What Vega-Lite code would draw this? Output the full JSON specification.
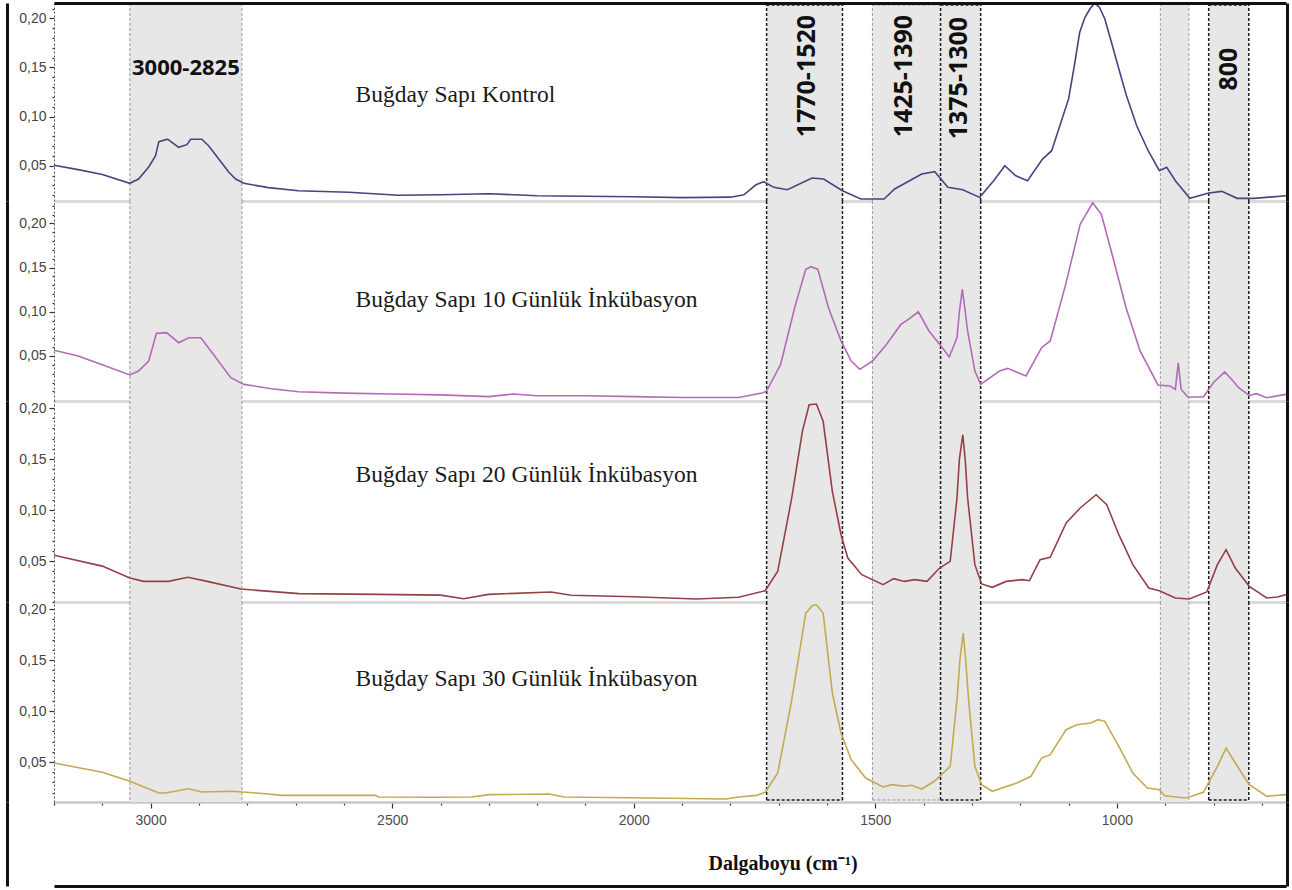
{
  "$schema": "https://vega.github.io/schema/vega-lite/v6.json",
  "usermeta": {"embedOptions": {"actions": false}},
  "background": "white",
  "padding": {"left": 7, "top": 2, "right": 4, "bottom": 2},
  "bounds": "flush",
  "spacing": 0,
  "resolve": {"scale": {"x": "independent", "y": "independent"}, "axis": {"x": "independent", "y": "independent"}},
  "config": {"view": {"stroke": null}, "axis": {"grid": false}},
  "datasets": {
    "bands": [
      {"start": 3043, "end": 2811}, {"start": 1725, "end": 1568}, {"start": 1506, "end": 1365},
      {"start": 1365, "end": 1282}, {"start": 910, "end": 851}, {"start": 810, "end": 727}
    ],
    "edgesLight": [{"wn": 3043}, {"wn": 2811}, {"wn": 1506}, {"wn": 910}, {"wn": 851}],
    "edgesDark": [{"wn": 1725}, {"wn": 1568}, {"wn": 1365}, {"wn": 1282}, {"wn": 810}, {"wn": 727}],
    "boxesDark": [{"start": 1725, "end": 1568}, {"start": 1365, "end": 1282}, {"start": 810, "end": 727}],
    "boxesLight": [{"start": 1506, "end": 1365}],
    "spectra": [
      {"sample": "K", "wn": 3200, "abs": 0.0505}, {"sample": "K", "wn": 3150, "abs": 0.046}, {"sample": "K", "wn": 3100, "abs": 0.041},
      {"sample": "K", "wn": 3043, "abs": 0.0321}, {"sample": "K", "wn": 3025, "abs": 0.0364}, {"sample": "K", "wn": 3004, "abs": 0.0487},
      {"sample": "K", "wn": 2990, "abs": 0.06}, {"sample": "K", "wn": 2983, "abs": 0.0745}, {"sample": "K", "wn": 2965, "abs": 0.077},
      {"sample": "K", "wn": 2942, "abs": 0.0687}, {"sample": "K", "wn": 2925, "abs": 0.0714}, {"sample": "K", "wn": 2917, "abs": 0.077},
      {"sample": "K", "wn": 2894, "abs": 0.077}, {"sample": "K", "wn": 2880, "abs": 0.0704}, {"sample": "K", "wn": 2859, "abs": 0.0568},
      {"sample": "K", "wn": 2838, "abs": 0.0433}, {"sample": "K", "wn": 2824, "abs": 0.0365}, {"sample": "K", "wn": 2807, "abs": 0.0321},
      {"sample": "K", "wn": 2756, "abs": 0.0277}, {"sample": "K", "wn": 2694, "abs": 0.0245}, {"sample": "K", "wn": 2590, "abs": 0.023},
      {"sample": "K", "wn": 2487, "abs": 0.02}, {"sample": "K", "wn": 2400, "abs": 0.0205}, {"sample": "K", "wn": 2300, "abs": 0.0215},
      {"sample": "K", "wn": 2200, "abs": 0.0195}, {"sample": "K", "wn": 2100, "abs": 0.019}, {"sample": "K", "wn": 2000, "abs": 0.0185},
      {"sample": "K", "wn": 1900, "abs": 0.0175}, {"sample": "K", "wn": 1800, "abs": 0.018}, {"sample": "K", "wn": 1772, "abs": 0.0204},
      {"sample": "K", "wn": 1747, "abs": 0.0306}, {"sample": "K", "wn": 1731, "abs": 0.0337}, {"sample": "K", "wn": 1710, "abs": 0.028},
      {"sample": "K", "wn": 1682, "abs": 0.0256}, {"sample": "K", "wn": 1631, "abs": 0.0375}, {"sample": "K", "wn": 1607, "abs": 0.0365},
      {"sample": "K", "wn": 1568, "abs": 0.0245}, {"sample": "K", "wn": 1530, "abs": 0.0161}, {"sample": "K", "wn": 1482, "abs": 0.0161},
      {"sample": "K", "wn": 1460, "abs": 0.0263}, {"sample": "K", "wn": 1404, "abs": 0.0415}, {"sample": "K", "wn": 1377, "abs": 0.0439},
      {"sample": "K", "wn": 1350, "abs": 0.028}, {"sample": "K", "wn": 1319, "abs": 0.0256}, {"sample": "K", "wn": 1284, "abs": 0.0178},
      {"sample": "K", "wn": 1255, "abs": 0.0347}, {"sample": "K", "wn": 1232, "abs": 0.05}, {"sample": "K", "wn": 1210, "abs": 0.04},
      {"sample": "K", "wn": 1185, "abs": 0.0347}, {"sample": "K", "wn": 1154, "abs": 0.0568}, {"sample": "K", "wn": 1135, "abs": 0.0653},
      {"sample": "K", "wn": 1100, "abs": 0.118}, {"sample": "K", "wn": 1088, "abs": 0.152}, {"sample": "K", "wn": 1077, "abs": 0.1858},
      {"sample": "K", "wn": 1066, "abs": 0.201}, {"sample": "K", "wn": 1056, "abs": 0.2095}, {"sample": "K", "wn": 1046, "abs": 0.2157},
      {"sample": "K", "wn": 1036, "abs": 0.211}, {"sample": "K", "wn": 1025, "abs": 0.1993}, {"sample": "K", "wn": 1012, "abs": 0.177},
      {"sample": "K", "wn": 998, "abs": 0.152}, {"sample": "K", "wn": 980, "abs": 0.121}, {"sample": "K", "wn": 959, "abs": 0.0907},
      {"sample": "K", "wn": 935, "abs": 0.065}, {"sample": "K", "wn": 912, "abs": 0.0449}, {"sample": "K", "wn": 897, "abs": 0.0484},
      {"sample": "K", "wn": 879, "abs": 0.0347}, {"sample": "K", "wn": 849, "abs": 0.0168}, {"sample": "K", "wn": 810, "abs": 0.0222},
      {"sample": "K", "wn": 783, "abs": 0.0239}, {"sample": "K", "wn": 751, "abs": 0.0168}, {"sample": "K", "wn": 716, "abs": 0.0168},
      {"sample": "K", "wn": 650, "abs": 0.0194},

      {"sample": "10", "wn": 3200, "abs": 0.0565}, {"sample": "10", "wn": 3150, "abs": 0.05}, {"sample": "10", "wn": 3100, "abs": 0.04},
      {"sample": "10", "wn": 3043, "abs": 0.0285}, {"sample": "10", "wn": 3025, "abs": 0.033}, {"sample": "10", "wn": 3004, "abs": 0.0443},
      {"sample": "10", "wn": 2988, "abs": 0.0756}, {"sample": "10", "wn": 2967, "abs": 0.0764}, {"sample": "10", "wn": 2942, "abs": 0.065},
      {"sample": "10", "wn": 2921, "abs": 0.0707}, {"sample": "10", "wn": 2896, "abs": 0.0707}, {"sample": "10", "wn": 2870, "abs": 0.0518},
      {"sample": "10", "wn": 2834, "abs": 0.0255}, {"sample": "10", "wn": 2807, "abs": 0.0179}, {"sample": "10", "wn": 2750, "abs": 0.013},
      {"sample": "10", "wn": 2694, "abs": 0.0096}, {"sample": "10", "wn": 2600, "abs": 0.008}, {"sample": "10", "wn": 2500, "abs": 0.007},
      {"sample": "10", "wn": 2400, "abs": 0.006}, {"sample": "10", "wn": 2300, "abs": 0.004}, {"sample": "10", "wn": 2250, "abs": 0.007},
      {"sample": "10", "wn": 2200, "abs": 0.005}, {"sample": "10", "wn": 2100, "abs": 0.005}, {"sample": "10", "wn": 2000, "abs": 0.004},
      {"sample": "10", "wn": 1900, "abs": 0.003}, {"sample": "10", "wn": 1783, "abs": 0.003}, {"sample": "10", "wn": 1732, "abs": 0.0085},
      {"sample": "10", "wn": 1725, "abs": 0.0104}, {"sample": "10", "wn": 1696, "abs": 0.0405}, {"sample": "10", "wn": 1667, "abs": 0.1046},
      {"sample": "10", "wn": 1644, "abs": 0.148}, {"sample": "10", "wn": 1633, "abs": 0.151}, {"sample": "10", "wn": 1619, "abs": 0.148},
      {"sample": "10", "wn": 1597, "abs": 0.1046}, {"sample": "10", "wn": 1571, "abs": 0.067}, {"sample": "10", "wn": 1550, "abs": 0.0443},
      {"sample": "10", "wn": 1532, "abs": 0.0349}, {"sample": "10", "wn": 1506, "abs": 0.0443}, {"sample": "10", "wn": 1477, "abs": 0.0631},
      {"sample": "10", "wn": 1447, "abs": 0.0857}, {"sample": "10", "wn": 1430, "abs": 0.092}, {"sample": "10", "wn": 1411, "abs": 0.1},
      {"sample": "10", "wn": 1389, "abs": 0.0783}, {"sample": "10", "wn": 1364, "abs": 0.0613}, {"sample": "10", "wn": 1347, "abs": 0.0489},
      {"sample": "10", "wn": 1331, "abs": 0.0707}, {"sample": "10", "wn": 1326, "abs": 0.1}, {"sample": "10", "wn": 1320, "abs": 0.1253},
      {"sample": "10", "wn": 1315, "abs": 0.105}, {"sample": "10", "wn": 1309, "abs": 0.0783}, {"sample": "10", "wn": 1294, "abs": 0.033},
      {"sample": "10", "wn": 1282, "abs": 0.0179}, {"sample": "10", "wn": 1243, "abs": 0.033}, {"sample": "10", "wn": 1226, "abs": 0.036},
      {"sample": "10", "wn": 1188, "abs": 0.0274}, {"sample": "10", "wn": 1156, "abs": 0.0594}, {"sample": "10", "wn": 1138, "abs": 0.067},
      {"sample": "10", "wn": 1106, "abs": 0.131}, {"sample": "10", "wn": 1076, "abs": 0.1989}, {"sample": "10", "wn": 1050, "abs": 0.2234},
      {"sample": "10", "wn": 1032, "abs": 0.21}, {"sample": "10", "wn": 1010, "abs": 0.165}, {"sample": "10", "wn": 981, "abs": 0.1046},
      {"sample": "10", "wn": 952, "abs": 0.0557}, {"sample": "10", "wn": 915, "abs": 0.0172}, {"sample": "10", "wn": 890, "abs": 0.016},
      {"sample": "10", "wn": 879, "abs": 0.0122}, {"sample": "10", "wn": 873, "abs": 0.0424}, {"sample": "10", "wn": 867, "abs": 0.0122},
      {"sample": "10", "wn": 853, "abs": 0.0036}, {"sample": "10", "wn": 821, "abs": 0.0036}, {"sample": "10", "wn": 800, "abs": 0.02},
      {"sample": "10", "wn": 777, "abs": 0.0319}, {"sample": "10", "wn": 760, "abs": 0.022}, {"sample": "10", "wn": 748, "abs": 0.0141},
      {"sample": "10", "wn": 726, "abs": 0.0054}, {"sample": "10", "wn": 711, "abs": 0.0074}, {"sample": "10", "wn": 690, "abs": 0.0028},
      {"sample": "10", "wn": 650, "abs": 0.0066},

      {"sample": "20", "wn": 3200, "abs": 0.0556}, {"sample": "20", "wn": 3100, "abs": 0.045}, {"sample": "20", "wn": 3043, "abs": 0.0333},
      {"sample": "20", "wn": 3014, "abs": 0.03}, {"sample": "20", "wn": 2963, "abs": 0.03}, {"sample": "20", "wn": 2923, "abs": 0.034},
      {"sample": "20", "wn": 2883, "abs": 0.03}, {"sample": "20", "wn": 2813, "abs": 0.0225}, {"sample": "20", "wn": 2693, "abs": 0.018},
      {"sample": "20", "wn": 2532, "abs": 0.0173}, {"sample": "20", "wn": 2400, "abs": 0.0165}, {"sample": "20", "wn": 2352, "abs": 0.013},
      {"sample": "20", "wn": 2301, "abs": 0.0173}, {"sample": "20", "wn": 2171, "abs": 0.0196}, {"sample": "20", "wn": 2130, "abs": 0.0164},
      {"sample": "20", "wn": 2000, "abs": 0.015}, {"sample": "20", "wn": 1870, "abs": 0.0127}, {"sample": "20", "wn": 1783, "abs": 0.0144},
      {"sample": "20", "wn": 1728, "abs": 0.0209}, {"sample": "20", "wn": 1702, "abs": 0.0399}, {"sample": "20", "wn": 1673, "abs": 0.1118},
      {"sample": "20", "wn": 1651, "abs": 0.1772}, {"sample": "20", "wn": 1637, "abs": 0.2032}, {"sample": "20", "wn": 1622, "abs": 0.2039},
      {"sample": "20", "wn": 1608, "abs": 0.187}, {"sample": "20", "wn": 1589, "abs": 0.1183}, {"sample": "20", "wn": 1571, "abs": 0.0758},
      {"sample": "20", "wn": 1557, "abs": 0.0529}, {"sample": "20", "wn": 1528, "abs": 0.0366}, {"sample": "20", "wn": 1484, "abs": 0.0268},
      {"sample": "20", "wn": 1462, "abs": 0.0327}, {"sample": "20", "wn": 1440, "abs": 0.03}, {"sample": "20", "wn": 1418, "abs": 0.0317},
      {"sample": "20", "wn": 1393, "abs": 0.03}, {"sample": "20", "wn": 1367, "abs": 0.0431}, {"sample": "20", "wn": 1345, "abs": 0.0497},
      {"sample": "20", "wn": 1331, "abs": 0.1118}, {"sample": "20", "wn": 1326, "abs": 0.15}, {"sample": "20", "wn": 1319, "abs": 0.1738},
      {"sample": "20", "wn": 1314, "abs": 0.15}, {"sample": "20", "wn": 1309, "abs": 0.1118}, {"sample": "20", "wn": 1294, "abs": 0.0464},
      {"sample": "20", "wn": 1280, "abs": 0.0275}, {"sample": "20", "wn": 1258, "abs": 0.0242}, {"sample": "20", "wn": 1229, "abs": 0.03},
      {"sample": "20", "wn": 1196, "abs": 0.0317}, {"sample": "20", "wn": 1181, "abs": 0.0307}, {"sample": "20", "wn": 1159, "abs": 0.0513},
      {"sample": "20", "wn": 1138, "abs": 0.0536}, {"sample": "20", "wn": 1105, "abs": 0.0873}, {"sample": "20", "wn": 1076, "abs": 0.102},
      {"sample": "20", "wn": 1043, "abs": 0.115}, {"sample": "20", "wn": 1021, "abs": 0.1052}, {"sample": "20", "wn": 996, "abs": 0.0758},
      {"sample": "20", "wn": 967, "abs": 0.0464}, {"sample": "20", "wn": 934, "abs": 0.0235}, {"sample": "20", "wn": 912, "abs": 0.0209},
      {"sample": "20", "wn": 879, "abs": 0.0137}, {"sample": "20", "wn": 850, "abs": 0.0127}, {"sample": "20", "wn": 814, "abs": 0.0196},
      {"sample": "20", "wn": 792, "abs": 0.0464}, {"sample": "20", "wn": 774, "abs": 0.0611}, {"sample": "20", "wn": 755, "abs": 0.0431},
      {"sample": "20", "wn": 726, "abs": 0.0252}, {"sample": "20", "wn": 690, "abs": 0.0137}, {"sample": "20", "wn": 668, "abs": 0.0147},
      {"sample": "20", "wn": 650, "abs": 0.017},

      {"sample": "30", "wn": 3200, "abs": 0.049}, {"sample": "30", "wn": 3100, "abs": 0.04}, {"sample": "30", "wn": 3043, "abs": 0.0311},
      {"sample": "30", "wn": 2983, "abs": 0.0196}, {"sample": "30", "wn": 2970, "abs": 0.0196}, {"sample": "30", "wn": 2921, "abs": 0.0238},
      {"sample": "30", "wn": 2894, "abs": 0.0206}, {"sample": "30", "wn": 2832, "abs": 0.0213}, {"sample": "30", "wn": 2763, "abs": 0.0189},
      {"sample": "30", "wn": 2729, "abs": 0.0173}, {"sample": "30", "wn": 2535, "abs": 0.0173}, {"sample": "30", "wn": 2528, "abs": 0.0157},
      {"sample": "30", "wn": 2418, "abs": 0.0154}, {"sample": "30", "wn": 2335, "abs": 0.0157}, {"sample": "30", "wn": 2300, "abs": 0.018},
      {"sample": "30", "wn": 2175, "abs": 0.0186}, {"sample": "30", "wn": 2144, "abs": 0.0157}, {"sample": "30", "wn": 1966, "abs": 0.0147},
      {"sample": "30", "wn": 1809, "abs": 0.0137}, {"sample": "30", "wn": 1783, "abs": 0.0157}, {"sample": "30", "wn": 1746, "abs": 0.0173},
      {"sample": "30", "wn": 1728, "abs": 0.0203}, {"sample": "30", "wn": 1702, "abs": 0.0392}, {"sample": "30", "wn": 1673, "abs": 0.111},
      {"sample": "30", "wn": 1644, "abs": 0.196}, {"sample": "30", "wn": 1630, "abs": 0.2035}, {"sample": "30", "wn": 1622, "abs": 0.2042},
      {"sample": "30", "wn": 1608, "abs": 0.196}, {"sample": "30", "wn": 1589, "abs": 0.1176}, {"sample": "30", "wn": 1571, "abs": 0.0784},
      {"sample": "30", "wn": 1550, "abs": 0.0523}, {"sample": "30", "wn": 1520, "abs": 0.0343}, {"sample": "30", "wn": 1484, "abs": 0.0255},
      {"sample": "30", "wn": 1466, "abs": 0.0278}, {"sample": "30", "wn": 1440, "abs": 0.0262}, {"sample": "30", "wn": 1425, "abs": 0.0272},
      {"sample": "30", "wn": 1404, "abs": 0.0235}, {"sample": "30", "wn": 1378, "abs": 0.0311}, {"sample": "30", "wn": 1345, "abs": 0.0458},
      {"sample": "30", "wn": 1331, "abs": 0.111}, {"sample": "30", "wn": 1325, "abs": 0.15}, {"sample": "30", "wn": 1318, "abs": 0.1765},
      {"sample": "30", "wn": 1313, "abs": 0.15}, {"sample": "30", "wn": 1307, "abs": 0.111}, {"sample": "30", "wn": 1294, "abs": 0.0458},
      {"sample": "30", "wn": 1280, "abs": 0.0278}, {"sample": "30", "wn": 1258, "abs": 0.0213}, {"sample": "30", "wn": 1207, "abs": 0.0294},
      {"sample": "30", "wn": 1178, "abs": 0.036}, {"sample": "30", "wn": 1156, "abs": 0.0539}, {"sample": "30", "wn": 1138, "abs": 0.0572},
      {"sample": "30", "wn": 1105, "abs": 0.0817}, {"sample": "30", "wn": 1083, "abs": 0.0866}, {"sample": "30", "wn": 1054, "abs": 0.0882},
      {"sample": "30", "wn": 1039, "abs": 0.0915}, {"sample": "30", "wn": 1025, "abs": 0.0899}, {"sample": "30", "wn": 996, "abs": 0.0654},
      {"sample": "30", "wn": 967, "abs": 0.0392}, {"sample": "30", "wn": 937, "abs": 0.0245}, {"sample": "30", "wn": 912, "abs": 0.0229},
      {"sample": "30", "wn": 901, "abs": 0.017}, {"sample": "30", "wn": 857, "abs": 0.0147}, {"sample": "30", "wn": 821, "abs": 0.0203},
      {"sample": "30", "wn": 792, "abs": 0.0458}, {"sample": "30", "wn": 774, "abs": 0.0637}, {"sample": "30", "wn": 755, "abs": 0.049},
      {"sample": "30", "wn": 726, "abs": 0.0278}, {"sample": "30", "wn": 690, "abs": 0.0164}, {"sample": "30", "wn": 650, "abs": 0.018}
    ]
  },
  "vconcat": [
    {
      "width": 1232, "height": 198,
      "layer": [
        {"data": {"name": "bands"}, "mark": {"type": "rect", "color": "#e7e7e7"},
         "encoding": {"x": {"field": "start", "type": "quantitative", "scale": {"domain": [650, 3200], "reverse": true, "nice": false, "zero": false}, "axis": null}, "x2": {"field": "end"}}},
        {"data": {"name": "edgesLight"}, "mark": {"type": "rule", "color": "#9a9a9a", "strokeDash": [3, 2], "strokeWidth": 1},
         "encoding": {"x": {"field": "wn", "type": "quantitative", "scale": {"domain": [650, 3200], "reverse": true, "nice": false, "zero": false}, "axis": null}}},
        {"data": {"name": "edgesDark"}, "mark": {"type": "rule", "color": "#1a1a1a", "strokeDash": [3, 2], "strokeWidth": 1.5},
         "encoding": {"x": {"field": "wn", "type": "quantitative", "scale": {"domain": [650, 3200], "reverse": true, "nice": false, "zero": false}, "axis": null}}},
        {"data": {"name": "boxesDark"}, "mark": {"type": "rule", "color": "#1a1a1a", "strokeDash": [3, 2], "strokeWidth": 1.5},
         "encoding": {"x": {"field": "start", "type": "quantitative", "scale": {"domain": [650, 3200], "reverse": true, "nice": false, "zero": false}, "axis": null}, "x2": {"field": "end"},
                      "y": {"datum": 0.2135, "type": "quantitative", "scale": {"domain": [0.0141, 0.2156], "nice": false, "zero": false}, "axis": null}}},
        {"data": {"name": "boxesLight"}, "mark": {"type": "rule", "color": "#9a9a9a", "strokeDash": [3, 2], "strokeWidth": 1},
         "encoding": {"x": {"field": "start", "type": "quantitative", "scale": {"domain": [650, 3200], "reverse": true, "nice": false, "zero": false}, "axis": null}, "x2": {"field": "end"},
                      "y": {"datum": 0.2135, "type": "quantitative", "scale": {"domain": [0.0141, 0.2156], "nice": false, "zero": false}, "axis": null}}},
        {"data": {"name": "spectra"}, "transform": [{"filter": "datum.sample == 'K'"}],
         "mark": {"type": "line", "color": "#45457f", "strokeWidth": 1.6, "clip": true},
         "encoding": {
           "x": {"field": "wn", "type": "quantitative", "scale": {"domain": [650, 3200], "reverse": true, "nice": false, "zero": false},
                 "axis": {"orient": "bottom", "domainColor": "#dadada", "domainWidth": 3, "ticks": false, "labels": false, "title": null}},
           "y": {"field": "abs", "type": "quantitative", "scale": {"domain": [0.0141, 0.2156], "nice": false, "zero": false},
                 "axis": {"orient": "left", "values": [0.02, 0.03, 0.04, 0.05, 0.06, 0.07, 0.08, 0.09, 0.1, 0.11, 0.12, 0.13, 0.14, 0.15, 0.16, 0.17, 0.18, 0.19, 0.2, 0.21],
                          "labelExpr": "round(datum.value*100) % 5 == 0 ? replace(format(datum.value, '.2f'), '.', ',') : ''",
                          "tickSize": {"condition": {"test": "round(datum.value*100) % 5 == 0", "value": 5}, "value": 2},
                          "tickColor": "#333", "tickWidth": 1.2, "domainColor": "#555", "domainDash": [2, 2], "domainWidth": 1,
                          "labelFont": "Liberation Sans", "labelFontSize": 14, "labelColor": "#444", "labelPadding": 3, "title": null}}
         }},
        {"data": {"values": [{"text": "Buğday Sapı Kontrol", "wn": 2576, "abs": 0.1146}]},
         "mark": {"type": "text", "align": "left", "baseline": "alphabetic", "font": "Liberation Serif", "fontSize": 23.5, "color": "#1a1a1a"},
         "encoding": {
           "x": {"field": "wn", "type": "quantitative", "scale": {"domain": [650, 3200], "reverse": true, "nice": false, "zero": false},
                 "axis": {"orient": "top", "domainColor": "#111", "domainWidth": 3, "ticks": false, "labels": false, "title": null, "zindex": 2}},
           "y": {"field": "abs", "type": "quantitative", "scale": {"domain": [0.0141, 0.2156], "nice": false, "zero": false},
                 "axis": {"orient": "right", "offset": 1, "domainColor": "#111", "domainWidth": 3, "ticks": false, "labels": false, "title": null, "zindex": 2}},
           "text": {"field": "text"}}},
        {"data": {"values": [{"abs": 0.1}]}, "mark": {"type": "rule", "opacity": 0},
         "encoding": {"y": {"field": "abs", "type": "quantitative", "scale": {"domain": [0.0141, 0.2156], "nice": false, "zero": false},
                 "axis": {"orient": "left", "offset": 47, "domainColor": "#111", "domainWidth": 3, "ticks": false, "labels": false, "title": null, "zindex": 2}}}},
        {"data": {"values": [{"text": "3000-2825", "wn": 2927, "abs": 0.1424}]},
         "mark": {"type": "text", "align": "center", "baseline": "alphabetic", "font": "Open Sans", "fontWeight": "bold", "fontSize": 22, "color": "#111"},
         "encoding": {
           "x": {"field": "wn", "type": "quantitative", "scale": {"domain": [650, 3200], "reverse": true, "nice": false, "zero": false}, "axis": null},
           "y": {"field": "abs", "type": "quantitative", "scale": {"domain": [0.0141, 0.2156], "nice": false, "zero": false}, "axis": null},
           "text": {"field": "text"}}},
        {"data": {"values": [{"text": "1770-1520", "wn": 1641, "abs": 0.1412}, {"text": "1425-1390", "wn": 1440, "abs": 0.1412}, {"text": "1375-1300", "wn": 1327, "abs": 0.1392}, {"text": "800", "wn": 768, "abs": 0.1484}]},
         "mark": {"type": "text", "angle": 270, "align": "center", "baseline": "middle", "font": "Open Sans", "fontWeight": "bold", "fontSize": 25, "color": "#111"},
         "encoding": {
           "x": {"field": "wn", "type": "quantitative", "scale": {"domain": [650, 3200], "reverse": true, "nice": false, "zero": false}, "axis": null},
           "y": {"field": "abs", "type": "quantitative", "scale": {"domain": [0.0141, 0.2156], "nice": false, "zero": false}, "axis": null},
           "text": {"field": "text"}}}
      ],
      "resolve": {"axis": {"x": "independent", "y": "independent"}}
    },
    {
      "width": 1232, "height": 200,
      "layer": [
        {"data": {"name": "bands"}, "mark": {"type": "rect", "color": "#e7e7e7"},
         "encoding": {"x": {"field": "start", "type": "quantitative", "scale": {"domain": [650, 3200], "reverse": true, "nice": false, "zero": false}, "axis": null}, "x2": {"field": "end"}}},
        {"data": {"name": "edgesLight"}, "mark": {"type": "rule", "color": "#9a9a9a", "strokeDash": [3, 2], "strokeWidth": 1},
         "encoding": {"x": {"field": "wn", "type": "quantitative", "scale": {"domain": [650, 3200], "reverse": true, "nice": false, "zero": false}, "axis": null}}},
        {"data": {"name": "edgesDark"}, "mark": {"type": "rule", "color": "#1a1a1a", "strokeDash": [3, 2], "strokeWidth": 1.5},
         "encoding": {"x": {"field": "wn", "type": "quantitative", "scale": {"domain": [650, 3200], "reverse": true, "nice": false, "zero": false}, "axis": null}}},
        {"data": {"name": "spectra"}, "transform": [{"filter": "datum.sample == '10'"}],
         "mark": {"type": "line", "color": "#b46ab9", "strokeWidth": 1.6, "clip": true},
         "encoding": {
           "x": {"field": "wn", "type": "quantitative", "scale": {"domain": [650, 3200], "reverse": true, "nice": false, "zero": false},
                 "axis": {"orient": "bottom", "domainColor": "#dadada", "domainWidth": 3, "ticks": false, "labels": false, "title": null}},
           "y": {"field": "abs", "type": "quantitative", "scale": {"domain": [-0.0009, 0.2253], "nice": false, "zero": false},
                 "axis": {"orient": "left", "values": [0.01, 0.02, 0.03, 0.04, 0.05, 0.06, 0.07, 0.08, 0.09, 0.1, 0.11, 0.12, 0.13, 0.14, 0.15, 0.16, 0.17, 0.18, 0.19, 0.2, 0.21, 0.22],
                          "labelExpr": "round(datum.value*100) % 5 == 0 ? replace(format(datum.value, '.2f'), '.', ',') : ''",
                          "tickSize": {"condition": {"test": "round(datum.value*100) % 5 == 0", "value": 5}, "value": 2},
                          "tickColor": "#333", "tickWidth": 1.2, "domainColor": "#555", "domainDash": [2, 2], "domainWidth": 1,
                          "labelFont": "Liberation Sans", "labelFontSize": 14, "labelColor": "#444", "labelPadding": 3, "title": null}}
         }},
        {"data": {"values": [{"text": "Buğday Sapı 10 Günlük İnkübasyon", "wn": 2576, "abs": 0.1058}]},
         "mark": {"type": "text", "align": "left", "baseline": "alphabetic", "font": "Liberation Serif", "fontSize": 23.5, "color": "#1a1a1a"},
         "encoding": {
           "x": {"field": "wn", "type": "quantitative", "scale": {"domain": [650, 3200], "reverse": true, "nice": false, "zero": false}, "axis": null},
           "y": {"field": "abs", "type": "quantitative", "scale": {"domain": [-0.0009, 0.2253], "nice": false, "zero": false},
                 "axis": {"orient": "right", "offset": 1, "domainColor": "#111", "domainWidth": 3, "ticks": false, "labels": false, "title": null, "zindex": 2}},
           "text": {"field": "text"}}},
        {"data": {"values": [{"abs": 0.1}]}, "mark": {"type": "rule", "opacity": 0},
         "encoding": {"y": {"field": "abs", "type": "quantitative", "scale": {"domain": [-0.0009, 0.2253], "nice": false, "zero": false},
                 "axis": {"orient": "left", "offset": 47, "domainColor": "#111", "domainWidth": 3, "ticks": false, "labels": false, "title": null, "zindex": 2}}}}
      ],
      "resolve": {"axis": {"x": "independent", "y": "independent"}}
    },
    {
      "width": 1232, "height": 201,
      "layer": [
        {"data": {"name": "bands"}, "mark": {"type": "rect", "color": "#e7e7e7"},
         "encoding": {"x": {"field": "start", "type": "quantitative", "scale": {"domain": [650, 3200], "reverse": true, "nice": false, "zero": false}, "axis": null}, "x2": {"field": "end"}}},
        {"data": {"name": "edgesLight"}, "mark": {"type": "rule", "color": "#9a9a9a", "strokeDash": [3, 2], "strokeWidth": 1},
         "encoding": {"x": {"field": "wn", "type": "quantitative", "scale": {"domain": [650, 3200], "reverse": true, "nice": false, "zero": false}, "axis": null}}},
        {"data": {"name": "edgesDark"}, "mark": {"type": "rule", "color": "#1a1a1a", "strokeDash": [3, 2], "strokeWidth": 1.5},
         "encoding": {"x": {"field": "wn", "type": "quantitative", "scale": {"domain": [650, 3200], "reverse": true, "nice": false, "zero": false}, "axis": null}}},
        {"data": {"name": "spectra"}, "transform": [{"filter": "datum.sample == '20'"}],
         "mark": {"type": "line", "color": "#963f47", "strokeWidth": 1.6, "clip": true},
         "encoding": {
           "x": {"field": "wn", "type": "quantitative", "scale": {"domain": [650, 3200], "reverse": true, "nice": false, "zero": false},
                 "axis": {"orient": "bottom", "domainColor": "#dadada", "domainWidth": 3, "ticks": false, "labels": false, "title": null}},
           "y": {"field": "abs", "type": "quantitative", "scale": {"domain": [0.0098, 0.2069], "nice": false, "zero": false},
                 "axis": {"orient": "left", "values": [0.01, 0.02, 0.03, 0.04, 0.05, 0.06, 0.07, 0.08, 0.09, 0.1, 0.11, 0.12, 0.13, 0.14, 0.15, 0.16, 0.17, 0.18, 0.19, 0.2],
                          "labelExpr": "round(datum.value*100) % 5 == 0 ? replace(format(datum.value, '.2f'), '.', ',') : ''",
                          "tickSize": {"condition": {"test": "round(datum.value*100) % 5 == 0", "value": 5}, "value": 2},
                          "tickColor": "#333", "tickWidth": 1.2, "domainColor": "#555", "domainDash": [2, 2], "domainWidth": 1,
                          "labelFont": "Liberation Sans", "labelFontSize": 14, "labelColor": "#444", "labelPadding": 3, "title": null}}
         }},
        {"data": {"values": [{"text": "Buğday Sapı 20 Günlük İnkübasyon", "wn": 2576, "abs": 0.1272}]},
         "mark": {"type": "text", "align": "left", "baseline": "alphabetic", "font": "Liberation Serif", "fontSize": 23.5, "color": "#1a1a1a"},
         "encoding": {
           "x": {"field": "wn", "type": "quantitative", "scale": {"domain": [650, 3200], "reverse": true, "nice": false, "zero": false}, "axis": null},
           "y": {"field": "abs", "type": "quantitative", "scale": {"domain": [0.0098, 0.2069], "nice": false, "zero": false},
                 "axis": {"orient": "right", "offset": 1, "domainColor": "#111", "domainWidth": 3, "ticks": false, "labels": false, "title": null, "zindex": 2}},
           "text": {"field": "text"}}},
        {"data": {"values": [{"abs": 0.1}]}, "mark": {"type": "rule", "opacity": 0},
         "encoding": {"y": {"field": "abs", "type": "quantitative", "scale": {"domain": [0.0098, 0.2069], "nice": false, "zero": false},
                 "axis": {"orient": "left", "offset": 47, "domainColor": "#111", "domainWidth": 3, "ticks": false, "labels": false, "title": null, "zindex": 2}}}}
      ],
      "resolve": {"axis": {"x": "independent", "y": "independent"}}
    },
    {
      "width": 1232, "height": 200,
      "layer": [
        {"data": {"name": "bands"}, "mark": {"type": "rect", "color": "#e7e7e7"},
         "encoding": {"x": {"field": "start", "type": "quantitative", "scale": {"domain": [650, 3200], "reverse": true, "nice": false, "zero": false}, "axis": null}, "x2": {"field": "end"}}},
        {"data": {"name": "edgesLight"}, "mark": {"type": "rule", "color": "#9a9a9a", "strokeDash": [3, 2], "strokeWidth": 1},
         "encoding": {"x": {"field": "wn", "type": "quantitative", "scale": {"domain": [650, 3200], "reverse": true, "nice": false, "zero": false}, "axis": null}}},
        {"data": {"name": "edgesDark"}, "mark": {"type": "rule", "color": "#1a1a1a", "strokeDash": [3, 2], "strokeWidth": 1.5},
         "encoding": {"x": {"field": "wn", "type": "quantitative", "scale": {"domain": [650, 3200], "reverse": true, "nice": false, "zero": false}, "axis": null}}},
        {"data": {"name": "boxesDark"}, "mark": {"type": "rule", "color": "#1a1a1a", "strokeDash": [3, 2], "strokeWidth": 1.5},
         "encoding": {"x": {"field": "start", "type": "quantitative", "scale": {"domain": [650, 3200], "reverse": true, "nice": false, "zero": false}, "axis": null}, "x2": {"field": "end"},
                      "y": {"datum": 0.0128, "type": "quantitative", "scale": {"domain": [0.0108, 0.2069], "nice": false, "zero": false}, "axis": null}}},
        {"data": {"name": "boxesLight"}, "mark": {"type": "rule", "color": "#9a9a9a", "strokeDash": [3, 2], "strokeWidth": 1},
         "encoding": {"x": {"field": "start", "type": "quantitative", "scale": {"domain": [650, 3200], "reverse": true, "nice": false, "zero": false}, "axis": null}, "x2": {"field": "end"},
                      "y": {"datum": 0.0128, "type": "quantitative", "scale": {"domain": [0.0108, 0.2069], "nice": false, "zero": false}, "axis": null}}},
        {"data": {"name": "spectra"}, "transform": [{"filter": "datum.sample == '30'"}],
         "mark": {"type": "line", "color": "#c4aa50", "strokeWidth": 1.6, "clip": true},
         "encoding": {
           "x": {"field": "wn", "type": "quantitative", "scale": {"domain": [650, 3200], "reverse": true, "nice": false, "zero": false},
                 "axis": {"orient": "bottom", "values": [700, 800, 900, 1000, 1100, 1200, 1300, 1400, 1500, 1600, 1700, 1800, 1900, 2000, 2100, 2200, 2300, 2400, 2500, 2600, 2700, 2800, 2900, 3000, 3100, 3200],
                          "labelExpr": "datum.value % 500 == 0 ? format(datum.value, 'd') : ''",
                          "tickSize": {"condition": {"test": "datum.value % 500 == 0", "value": 6}, "value": 3},
                          "tickColor": "#333", "tickWidth": 1.2, "domainColor": "#c8c8c8", "domainWidth": 2.5,
                          "labelFont": "Liberation Sans", "labelFontSize": 14, "labelColor": "#4d4d4d", "labelPadding": 5, "labelFlush": false, "title": null}},
           "y": {"field": "abs", "type": "quantitative", "scale": {"domain": [0.0108, 0.2069], "nice": false, "zero": false},
                 "axis": {"orient": "left", "values": [0.02, 0.03, 0.04, 0.05, 0.06, 0.07, 0.08, 0.09, 0.1, 0.11, 0.12, 0.13, 0.14, 0.15, 0.16, 0.17, 0.18, 0.19, 0.2],
                          "labelExpr": "round(datum.value*100) % 5 == 0 ? replace(format(datum.value, '.2f'), '.', ',') : ''",
                          "tickSize": {"condition": {"test": "round(datum.value*100) % 5 == 0", "value": 5}, "value": 2},
                          "tickColor": "#333", "tickWidth": 1.2, "domainColor": "#555", "domainDash": [2, 2], "domainWidth": 1,
                          "labelFont": "Liberation Sans", "labelFontSize": 14, "labelColor": "#444", "labelPadding": 3, "title": null}}
         }},
        {"data": {"values": [{"text": "Buğday Sapı 30 Günlük İnkübasyon", "wn": 2576, "abs": 0.1242}]},
         "mark": {"type": "text", "align": "left", "baseline": "alphabetic", "font": "Liberation Serif", "fontSize": 23.5, "color": "#1a1a1a"},
         "encoding": {
           "x": {"field": "wn", "type": "quantitative", "scale": {"domain": [650, 3200], "reverse": true, "nice": false, "zero": false}, "axis": null},
           "y": {"field": "abs", "type": "quantitative", "scale": {"domain": [0.0108, 0.2069], "nice": false, "zero": false},
                 "axis": {"orient": "right", "offset": 1, "domainColor": "#111", "domainWidth": 3, "ticks": false, "labels": false, "title": null, "zindex": 2}},
           "text": {"field": "text"}}},
        {"data": {"values": [{"abs": 0.1}]}, "mark": {"type": "rule", "opacity": 0},
         "encoding": {"y": {"field": "abs", "type": "quantitative", "scale": {"domain": [0.0108, 0.2069], "nice": false, "zero": false},
                 "axis": {"orient": "left", "offset": 47, "domainColor": "#111", "domainWidth": 3, "ticks": false, "labels": false, "title": null, "zindex": 2}}}}
      ],
      "resolve": {"axis": {"x": "independent", "y": "independent"}}
    },
    {
      "width": 1232, "height": 84,
      "layer": [
        {"data": {"values": [{"text": "Dalgaboyu (cm⁻¹)", "wn": 1691, "pos": 0.26}]},
         "mark": {"type": "text", "align": "center", "baseline": "middle", "font": "Liberation Serif", "fontWeight": "bold", "fontSize": 20, "color": "#111"},
         "encoding": {
           "x": {"field": "wn", "type": "quantitative", "scale": {"domain": [650, 3200], "reverse": true, "nice": false, "zero": false},
                 "axis": {"orient": "bottom", "domainColor": "#111", "domainWidth": 3, "ticks": false, "labels": false, "title": null, "zindex": 2}},
           "y": {"field": "pos", "type": "quantitative", "scale": {"domain": [0, 1], "nice": false, "zero": false},
                 "axis": {"orient": "right", "offset": 1, "domainColor": "#111", "domainWidth": 3, "ticks": false, "labels": false, "title": null, "zindex": 2}},
           "text": {"field": "text"}}},
        {"data": {"values": [{"pos": 0.5}]}, "mark": {"type": "rule", "opacity": 0},
         "encoding": {"y": {"field": "pos", "type": "quantitative", "scale": {"domain": [0, 1], "nice": false, "zero": false},
                 "axis": {"orient": "left", "offset": 47, "domainColor": "#111", "domainWidth": 3, "ticks": false, "labels": false, "title": null, "zindex": 2}}}}
      ],
      "resolve": {"axis": {"y": "independent"}}
    }
  ]
}
